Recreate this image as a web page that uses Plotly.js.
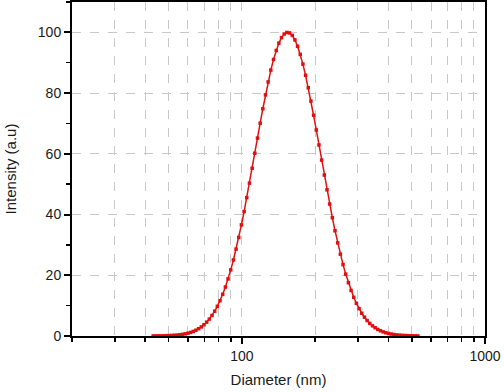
<!DOCTYPE html>
<html>
<head>
<meta charset="utf-8">
<script src="https://cdn.plot.ly/plotly-3.0.1.min.js"></script>
<style>html,body{margin:0;padding:0;background:#fff;}#chart{width:504px;height:392px;}</style>
</head>
<body>
<div id="chart"></div>
<script>
// Diameter (nm) values
const diameter = [43.15,44.26,45.39,46.56,47.75,48.98,50.23,51.52,52.84,54.20,
  55.59,57.02,58.48,59.98,61.52,63.10,64.71,66.37,68.08,69.82,
  71.61,73.45,75.34,77.27,79.25,81.28,83.37,85.51,87.70,89.95,
  92.26,94.62,97.05,99.54,102.1,104.7,107.4,110.2,113.0,115.9,
  118.9,121.9,125.0,128.2,131.5,134.9,138.4,141.9,145.5,149.3,
  153.1,157.0,161.1,165.2,169.4,173.8,178.2,182.8,187.5,192.3,
  197.2,202.3,207.5,212.8,218.3,223.9,229.6,235.5,241.5,247.7,
  254.1,260.6,267.3,274.2,281.2,288.4,295.8,303.4,311.2,319.2,
  327.3,335.7,344.4,353.2,362.2,371.5,381.1,390.8,400.9,411.2,
  421.7,432.5,443.6,455.0,466.7,478.6,490.9,503.5,516.4,529.7];
// Intensity (a.u) values
const intensity = [0.02,0.03,0.04,0.05,0.07,0.10,0.14,0.18,0.24,0.32,
  0.42,0.55,0.72,0.93,1.19,1.51,1.91,2.40,2.99,3.71,
  4.56,5.57,6.77,8.16,9.77,11.62,13.74,16.12,18.79,21.77,
  25.04,28.61,32.47,36.60,40.98,45.57,50.34,55.24,60.20,65.17,
  70.08,74.85,79.41,83.68,87.58,91.06,94.03,96.46,98.27,99.46,
  99.97,99.82,99.00,97.52,95.43,92.75,89.54,85.86,81.77,77.37,
  72.70,67.86,62.91,57.94,53.00,48.15,43.46,38.95,34.68,30.67,
  26.95,23.52,20.38,17.55,15.00,12.74,10.75,9.01,7.50,6.20,
  5.09,4.15,3.36,2.71,2.16,1.72,1.36,1.06,0.83,0.64,
  0.49,0.37,0.28,0.21,0.16,0.12,0.09,0.06,0.05,0.03];
const xTickVals = [100, 1000];
const xTickText = ['100', '1000'];
const yTickVals = [0, 20, 40, 60, 80, 100];
const xTitle = 'Diameter (nm)';
const yTitle = 'Intensity (a.u)';

const fontFam = '"Liberation Sans", Arial, sans-serif';
const trace = {
  x: diameter, y: intensity, type: 'scatter', mode: 'lines+markers',
  line: {color: '#e01010', width: 1.5},
  marker: {symbol: 'square', size: 3.5, color: '#e01010'},
  hoverinfo: 'skip'
};
const layout = {
  width: 504, height: 392,
  margin: {l: 72, r: 19, t: 2, b: 56},
  paper_bgcolor: '#fff', plot_bgcolor: '#fff',
  showlegend: false,
  font: {family: fontFam, size: 14, color: '#1a1a1a'},
  xaxis: {
    type: 'log', range: [Math.log10(20), 3],
    tickvals: xTickVals, ticktext: xTickText,
    ticks: 'outside', ticklen: 6, tickwidth: 2, tickcolor: '#000',
    showline: true, linecolor: '#000', linewidth: 2, mirror: true,
    showgrid: true, gridcolor: '#c8c8c8', gridwidth: 1, griddash: 'dash',
    zeroline: false,
    minor: {dtick: 'D1', ticks: 'outside', ticklen: 4, tickwidth: 1.5, tickcolor: '#000',
            showgrid: true, gridcolor: '#c8c8c8', gridwidth: 1, griddash: 'dash'},
    tickfont: {family: fontFam, size: 14, color: '#1a1a1a'},
    title: {text: xTitle, font: {family: fontFam, size: 15, color: '#1a1a1a'}, standoff: 12}
  },
  yaxis: {
    range: [0, 110], tickvals: yTickVals,
    ticks: 'outside', ticklen: 6, tickwidth: 2, tickcolor: '#000',
    showline: true, linecolor: '#000', linewidth: 2, mirror: true,
    showgrid: true, gridcolor: '#c8c8c8', gridwidth: 1, griddash: 'dash',
    zeroline: false,
    minor: {dtick: 10, ticks: 'outside', ticklen: 4, tickwidth: 1.5, tickcolor: '#000', showgrid: false},
    tickfont: {family: fontFam, size: 14, color: '#1a1a1a'},
    title: {text: yTitle, font: {family: fontFam, size: 15, color: '#1a1a1a'}, standoff: 18}
  }
};
Plotly.newPlot('chart', [trace], layout, {staticPlot: true, displayModeBar: false});
</script>
</body>
</html>
